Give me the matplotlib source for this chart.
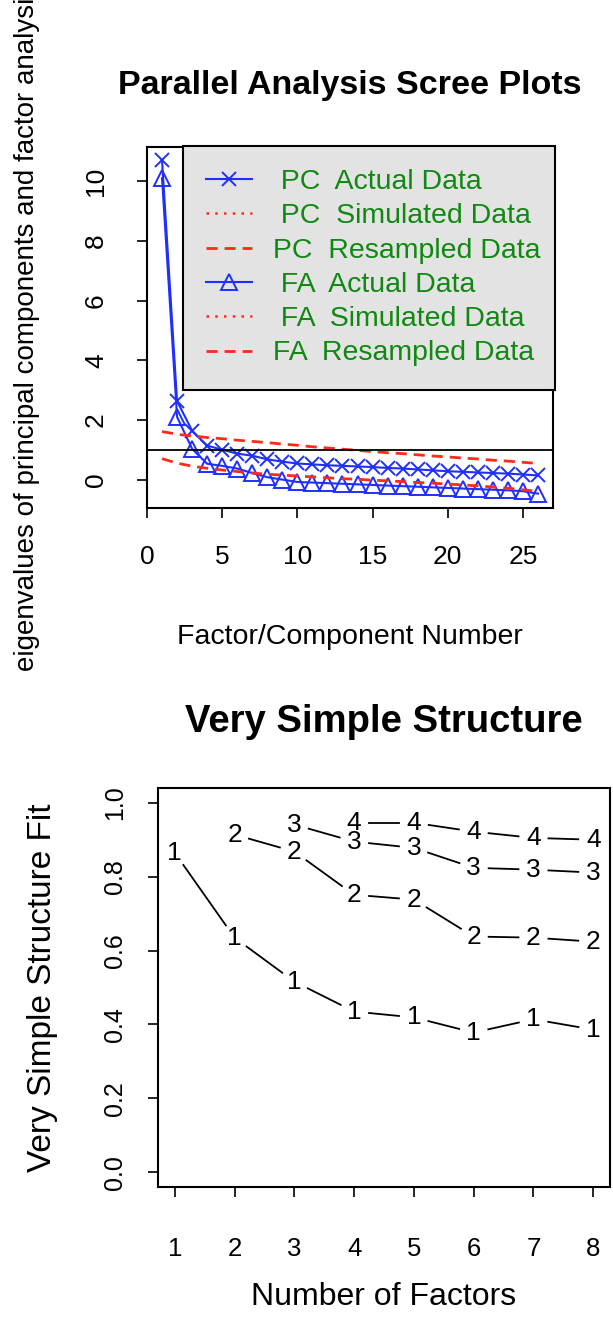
import numpy as np
import matplotlib.pyplot as plt
from matplotlib.lines import Line2D

plt.rcParams['font.family'] = ['Liberation Sans', 'DejaVu Sans']

### values (parallel analysis)
factor_no = np.arange(1, 27)
pc_actual = [10.7, 2.63, 1.64, 1.14, 1.0, 0.87, 0.8, 0.68, 0.6, 0.54, 0.51, 0.48, 0.46, 0.44,
             0.42, 0.39, 0.37, 0.34, 0.31, 0.28, 0.26, 0.24, 0.22, 0.2, 0.17, 0.14]
fa_actual = [10.1, 2.1, 1.03, 0.53, 0.46, 0.37, 0.22, 0.08, 0.0, -0.08, -0.1, -0.12, -0.14, -0.16,
             -0.18, -0.2, -0.22, -0.24, -0.26, -0.28, -0.3, -0.32, -0.34, -0.36, -0.39, -0.47]
pc_resampled = [1.61, 1.52, 1.46, 1.41, 1.37, 1.32, 1.28, 1.24, 1.19, 1.15, 1.1, 1.06, 1.02, 0.98,
                0.94, 0.9, 0.87, 0.83, 0.79, 0.76, 0.72, 0.69, 0.65, 0.62, 0.58, 0.54]
fa_resampled = [0.7, 0.55, 0.45, 0.38, 0.32, 0.27, 0.22, 0.18, 0.15, 0.12, 0.09, 0.06, 0.03, 0.01,
                -0.02, -0.04, -0.07, -0.1, -0.12, -0.15, -0.18, -0.21, -0.25, -0.29, -0.34, -0.4]
legend_labels = ['  PC  Actual Data', '  PC  Simulated Data', ' PC  Resampled Data',
                 '  FA  Actual Data', '  FA  Simulated Data', ' FA  Resampled Data']

### very simple structure fit, one list per complexity
n_factors = np.arange(1, 9)
vss_fit = {
    1: [0.865, 0.635, 0.516, 0.435, 0.419, 0.378, 0.414, 0.386],
    2: [0.914, 0.868, 0.751, 0.738, 0.638, 0.635, 0.624],
    3: [0.941, 0.895, 0.878, 0.824, 0.819, 0.811],
    4: [0.946, 0.946, 0.922, 0.905, 0.9],
}

blue = '#1f2fff'
red = '#ff2a1a'

fig = plt.figure(figsize=(6.13, 13.37), dpi=100)

### top panel: scree plots
ax1 = fig.add_axes([0.2398, 0.6201, 0.6623, 0.2700])
ax1.plot(factor_no, pc_actual, color=blue, lw=1.5, marker='x', ms=10, mew=1.4)
ax1.plot(factor_no, fa_actual, color=blue, lw=1.5, marker='^', ms=11, mew=1.4, mfc='none')
ax1.plot(factor_no, pc_resampled, color=red, lw=2, ls=(0, (4, 2.5)))
ax1.plot(factor_no, fa_resampled, color=red, lw=2, ls=(0, (4, 2.5)))
ax1.axhline(1, color='black', lw=1.3)
ax1.set_xlim(0, 27)
ax1.set_ylim(-0.95, 11.15)
ax1.set_xticks([0, 5, 10, 15, 20, 25])
ax1.set_yticks([0, 2, 4, 6, 8, 10])
ax1.tick_params(axis='x', labelsize=19, length=7, width=1.2, pad=20)
ax1.tick_params(axis='y', labelsize=19, length=7, width=1.2, pad=21, labelrotation=90)
for t in ax1.get_yticklabels():
    t.set_va('center')
ax1.set_title('Parallel Analysis Scree Plots', fontsize=24.5, fontweight='bold', pad=38)
ax1.set_xlabel('Factor/Component Number', fontsize=20.5, labelpad=39)
ax1.set_ylabel('eigenvalues of principal components and factor analysis', fontsize=20,
               labelpad=32)
for s in ax1.spines.values():
    s.set_linewidth(1.5)

handles = [
    Line2D([], [], color=blue, lw=1.5, marker='x', ms=10, mew=1.4),
    Line2D([], [], color=red, lw=1.8, ls=(0, (1, 2.5))),
    Line2D([], [], color=red, lw=2, ls=(0, (4, 2.5))),
    Line2D([], [], color=blue, lw=1.5, marker='^', ms=11, mew=1.4, mfc='none'),
    Line2D([], [], color=red, lw=1.8, ls=(0, (1, 2.5))),
    Line2D([], [], color=red, lw=2, ls=(0, (4, 2.5))),
]
leg = ax1.legend(handles, legend_labels, loc='upper right', bbox_to_anchor=(0.089, 0, 0.916, 1.003),
                 mode='expand', fontsize=20.5, labelcolor='#118811', facecolor='#e3e3e3',
                 edgecolor='black', fancybox=False, framealpha=1, borderaxespad=0,
                 borderpad=0.82, handlelength=1.6, handletextpad=0.45, labelspacing=0.29)
leg.get_frame().set_linewidth(1.5)

### bottom panel: very simple structure
ax2 = fig.add_axes([0.2577, 0.1122, 0.7374, 0.2984])
ax2.set_xlim(0.72, 8.28)
ax2.set_ylim(-0.04, 1.04)
fig.canvas.draw()
gap = 15
for k, fit in vss_fit.items():
    xs = n_factors[k - 1:]
    pts = ax2.transData.transform(np.column_stack([xs, fit]))
    inv = ax2.transData.inverted()
    for p0, p1 in zip(pts[:-1], pts[1:]):
        d = p1 - p0
        L = np.hypot(d[0], d[1])
        if L <= 2 * gap:
            continue
        u = d / L
        seg = inv.transform(np.array([p0 + u * gap, p1 - u * gap]))
        ax2.plot(seg[:, 0], seg[:, 1], color='black', lw=1.3)
    for x, y in zip(xs, fit):
        ax2.text(x, y, str(k), fontsize=19, ha='center', va='center')

ax2.set_xticks(n_factors)
ax2.set_yticks([0.0, 0.2, 0.4, 0.6, 0.8, 1.0])
ax2.set_yticklabels(['0.0', '0.2', '0.4', '0.6', '0.8', '1.0'])
ax2.tick_params(axis='x', labelsize=18.5, length=7, width=1.2, pad=29)
ax2.tick_params(axis='y', labelsize=18, length=7, width=1.2, pad=15, labelrotation=90)
for t in ax2.get_yticklabels():
    t.set_va('center')
ax2.set_title('Very Simple Structure', fontsize=27.5, fontweight='bold', pad=40)
ax2.set_xlabel('Number of Factors', fontsize=23, labelpad=15)
ax2.set_ylabel('Very Simple Structure Fit', fontsize=24, labelpad=33)
for s in ax2.spines.values():
    s.set_linewidth(1.5)

plt.savefig('out.png', dpi=100)
